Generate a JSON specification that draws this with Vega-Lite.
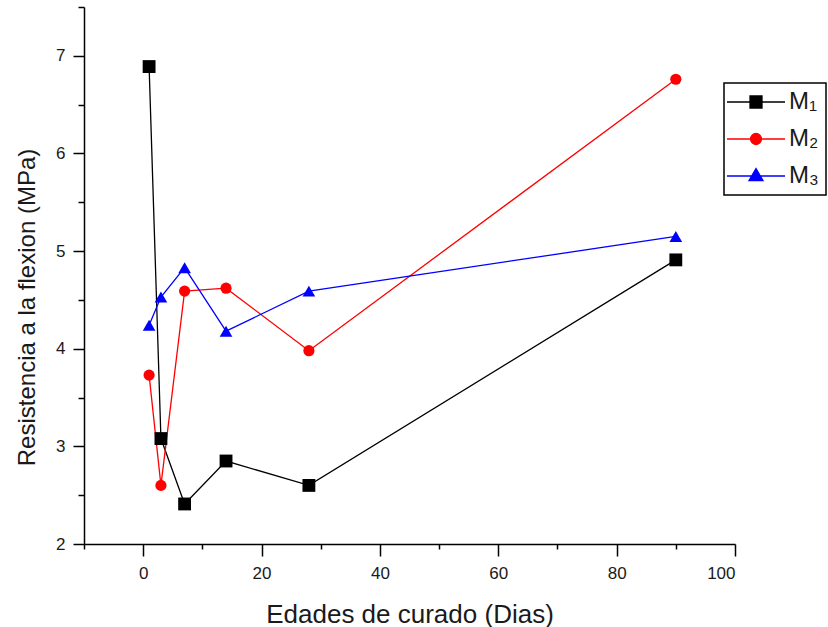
{
  "$schema": "https://vega.github.io/schema/vega-lite/v6.json",
  "width": 651,
  "height": 537,
  "autosize": {"type": "none"},
  "padding": {"left": 84, "top": 7, "right": 93, "bottom": 83},
  "background": "white",
  "config": {
    "view": {"stroke": null},
    "font": "Liberation Sans",
    "axis": {"grid": false, "domainColor": "#000", "domainWidth": 1.5, "tickColor": "#000", "tickWidth": 1.5, "labelColor": "#1a1a1a", "labelFont": "Liberation Sans", "titleFont": "Liberation Sans", "titleColor": "#1a1a1a", "titleFontWeight": "normal"}
  },
  "data": {
    "values": [
      {"dias": 1, "res": 6.89, "serie": "M1"},
      {"dias": 3, "res": 3.08, "serie": "M1"},
      {"dias": 7, "res": 2.41, "serie": "M1"},
      {"dias": 14, "res": 2.85, "serie": "M1"},
      {"dias": 28, "res": 2.6, "serie": "M1"},
      {"dias": 90, "res": 4.91, "serie": "M1"},
      {"dias": 1, "res": 3.73, "serie": "M2"},
      {"dias": 3, "res": 2.6, "serie": "M2"},
      {"dias": 7, "res": 4.59, "serie": "M2"},
      {"dias": 14, "res": 4.62, "serie": "M2"},
      {"dias": 28, "res": 3.98, "serie": "M2"},
      {"dias": 90, "res": 6.76, "serie": "M2"},
      {"dias": 1, "res": 4.24, "serie": "M3"},
      {"dias": 3, "res": 4.53, "serie": "M3"},
      {"dias": 7, "res": 4.83, "serie": "M3"},
      {"dias": 14, "res": 4.18, "serie": "M3"},
      {"dias": 28, "res": 4.59, "serie": "M3"},
      {"dias": 90, "res": 5.15, "serie": "M3"}
    ]
  },
  "encoding": {
    "x": {
      "field": "dias", "type": "quantitative",
      "scale": {"domain": [-10, 100], "nice": false, "zero": false},
      "axis": {
        "title": "Edades de curado (Dias)",
        "values": [-10, 0, 10, 20, 30, 40, 50, 60, 70, 80, 90, 100],
        "labelExpr": "datum.value % 20 === 0 ? format(datum.value, 'd') : ''",
        "labelFontSize": 17, "labelPadding": 9,
        "tickSize": {"condition": {"test": "datum.value % 20 === 0", "value": 12}, "value": 5},
        "titleFontSize": 26, "titleBaseline": "alphabetic", "titleY": 78
      }
    },
    "y": {
      "field": "res", "type": "quantitative",
      "scale": {"domain": [2, 7.5], "nice": false, "zero": false},
      "axis": {
        "title": "Resistencia a la flexion (MPa)",
        "values": [2, 2.5, 3, 3.5, 4, 4.5, 5, 5.5, 6, 6.5, 7, 7.5],
        "labelExpr": "datum.value % 1 === 0 ? format(datum.value, 'd') : ''",
        "labelFontSize": 17, "labelPadding": 8,
        "tickSize": {"condition": {"test": "datum.value % 1 === 0", "value": 11}, "value": 6},
        "titleFontSize": 24, "titleBaseline": "middle", "titleAlign": "center", "titleX": -57, "titleY": 300
      }
    }
  },
  "layer": [
    {
      "mark": {"type": "line", "strokeWidth": 1.3},
      "encoding": {
        "color": {
          "field": "serie", "type": "nominal",
          "scale": {"domain": ["M1", "M2", "M3"], "range": ["#000000", "#ff0000", "#0000ff"]},
          "legend": {
            "title": null,
            "orient": "none",
            "legendX": 640,
            "legendY": 76,
            "strokeColor": "#000",
            "padding": 7,
            "rowPadding": 13,
            "symbolSize": 400,
            "symbolStrokeWidth": 1.3,
            "labelFontSize": 24,
            "labelColor": "#1a1a1a",
            "labelOffset": 34,
            "labelExpr": "datum.label === 'M1' ? 'M₁' : datum.label === 'M2' ? 'M₂' : 'M₃'",
            "encode": {
              "legend": {"update": {"strokeWidth": {"value": 1.5}}},
              "symbols": {
                "update": {
                  "shape": {"signal": "datum.value === 'M1' ? 'M-1.6,0H4.2M0.7,-0.6H1.9V0.6H0.7Z' : datum.value === 'M2' ? 'M-1.6,0H4.2M1.85,0A0.55,0.55 0 1,1 0.75,0A0.55,0.55 0 1,1 1.85,0Z' : 'M-1.6,0H4.2M1.3,-0.75L2.0,0.45L0.6,0.45Z'"},
                  "fill": {"signal": "datum.value === 'M1' ? '#000000' : datum.value === 'M2' ? '#ff0000' : '#0000ff'"},
                  "stroke": {"signal": "datum.value === 'M1' ? '#000000' : datum.value === 'M2' ? '#ff0000' : '#0000ff'"},
                  "fillOpacity": {"value": 1},
                  "strokeWidth": {"value": 1.3}
                }
              }
            }
          }
        }
      }
    },
    {
      "transform": [{"filter": "datum.serie === 'M1'"}],
      "mark": {"type": "point", "shape": "square", "filled": true, "opacity": 1, "color": "#000000", "size": 165}
    },
    {
      "transform": [{"filter": "datum.serie === 'M2'"}],
      "mark": {"type": "point", "shape": "circle", "filled": true, "opacity": 1, "color": "#ff0000", "size": 125}
    },
    {
      "transform": [{"filter": "datum.serie === 'M3'"}],
      "mark": {"type": "point", "shape": "triangle-up", "filled": true, "opacity": 1, "color": "#0000ff", "size": 160}
    }
  ]
}
